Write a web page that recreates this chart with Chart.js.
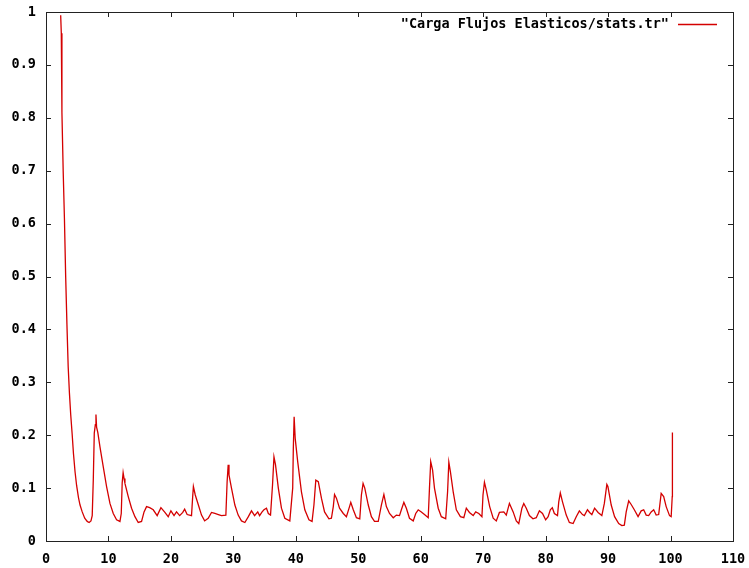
<!DOCTYPE html>
<html>
<head>
<meta charset="utf-8">
<title>Carga Flujos Elasticos</title>
<script src="https://cdn.jsdelivr.net/npm/chart.js@4/dist/chart.umd.min.js"></script>
<style>
  body { margin: 0; background: #fff; }
  canvas { display: block; }
</style>
</head>
<body>
<canvas id="statsChart" width="749" height="568"></canvas>
<script>
// stats.tr samples: time (s) and load
const seriesLabel = '"Carga Flujos Elasticos/stats.tr"';

const times = [
  2.35, 2.45, 2.55, 2.75, 2.95, 3.15, 3.35, 3.55, 3.75, 3.95, 4.2, 4.4, 4.65, 4.9, 5.2, 5.45, 5.8, 6.2, 6.6, 6.9,
  7.2, 7.4, 7.57, 7.73, 7.9, 8.0, 8.1, 8.3, 8.64, 9.17, 9.7, 10.24, 10.77, 11.3, 11.84, 12.05, 12.2, 12.35, 12.5, 12.64,
  13.17, 13.7, 14.24, 14.77, 15.3, 15.7, 16.1, 16.6, 17.17, 17.8, 18.4, 19.04, 19.57, 20.0, 20.5, 20.9, 21.4, 21.9, 22.2, 22.6,
  23.3, 23.47, 23.6, 23.9, 24.4, 24.9, 25.4, 25.97, 26.5, 27.04, 27.6, 28.1, 28.8, 29.0, 29.17, 29.3, 29.7, 30.24, 30.77, 31.3,
  31.84, 32.4, 32.9, 33.4, 33.9, 34.2, 34.6, 34.9, 35.3, 35.6, 35.95, 36.27, 36.5, 36.75, 37.2, 37.7, 38.24, 39.04, 39.5, 39.6,
  39.73, 39.9, 40.3, 40.9, 41.44, 42.1, 42.6, 42.9, 43.2, 43.6, 44.1, 44.6, 45.3, 45.7, 46.0, 46.2, 46.5, 47.0, 47.6, 48.1,
  48.6, 48.8, 49.2, 49.7, 50.24, 50.5, 50.77, 51.04, 51.6, 52.1, 52.6, 53.2, 53.7, 54.1, 54.5, 55.0, 55.6, 56.1, 56.6, 56.9,
  57.3, 57.7, 58.2, 58.8, 59.2, 59.6, 60.1, 60.6, 61.2, 61.4, 61.6, 61.9, 62.2, 62.8, 63.3, 64.0, 64.3, 64.5, 64.75, 65.2,
  65.7, 66.35, 66.9, 67.3, 67.8, 68.4, 68.8, 69.3, 69.8, 69.97, 70.2, 70.5, 71.04, 71.6, 72.1, 72.6, 73.3, 73.7, 74.2, 74.8,
  75.3, 75.7, 76.2, 76.5, 76.9, 77.4, 77.97, 78.5, 79.0, 79.5, 80.0, 80.4, 80.75, 81.07, 81.4, 81.9, 82.1, 82.35, 82.7, 83.3,
  83.8, 84.4, 84.9, 85.4, 85.9, 86.2, 86.7, 87.04, 87.4, 87.84, 88.4, 89.0, 89.4, 89.8, 89.97, 90.5, 91.04, 91.7, 92.2, 92.6,
  92.9, 93.3, 93.7, 94.2, 94.8, 95.3, 95.7, 96.1, 96.5, 96.9, 97.3, 97.7, 98.1, 98.5, 98.9, 99.3, 99.84, 100.1, 100.27, 100.3
];

const loads = [
  0.994, 0.960, 0.810, 0.700, 0.610, 0.500, 0.410, 0.330, 0.280, 0.240, 0.200, 0.165, 0.131, 0.105, 0.082, 0.068, 0.055, 0.043, 0.037, 0.035,
  0.038, 0.048, 0.115, 0.204, 0.220, 0.239, 0.215, 0.205, 0.178, 0.140, 0.103, 0.071, 0.052, 0.040, 0.037, 0.052, 0.110, 0.129, 0.118, 0.109,
  0.084, 0.062, 0.046, 0.035, 0.037, 0.055, 0.065, 0.063, 0.059, 0.048, 0.063, 0.054, 0.046, 0.057, 0.048, 0.055, 0.048, 0.054, 0.060, 0.050,
  0.048, 0.081, 0.103, 0.087, 0.068, 0.049, 0.038, 0.043, 0.054, 0.052, 0.050, 0.048, 0.049, 0.112, 0.144, 0.125, 0.100, 0.068, 0.049, 0.038,
  0.035, 0.046, 0.057, 0.048, 0.055, 0.048, 0.055, 0.059, 0.062, 0.052, 0.049, 0.106, 0.159, 0.144, 0.100, 0.062, 0.043, 0.038, 0.100, 0.175,
  0.235, 0.194, 0.150, 0.093, 0.059, 0.040, 0.037, 0.068, 0.115, 0.112, 0.081, 0.055, 0.042, 0.043, 0.065, 0.088, 0.081, 0.062, 0.052, 0.046,
  0.065, 0.073, 0.059, 0.044, 0.042, 0.087, 0.109, 0.100, 0.068, 0.046, 0.037, 0.037, 0.068, 0.088, 0.065, 0.052, 0.044, 0.049, 0.048, 0.059,
  0.073, 0.062, 0.043, 0.038, 0.052, 0.059, 0.055, 0.050, 0.044, 0.100, 0.150, 0.134, 0.100, 0.062, 0.046, 0.042, 0.093, 0.149, 0.131, 0.093,
  0.059, 0.046, 0.044, 0.062, 0.054, 0.048, 0.055, 0.052, 0.046, 0.087, 0.111, 0.096, 0.065, 0.043, 0.038, 0.054, 0.055, 0.049, 0.071, 0.055,
  0.038, 0.033, 0.062, 0.071, 0.062, 0.048, 0.042, 0.044, 0.057, 0.052, 0.040, 0.046, 0.059, 0.063, 0.052, 0.048, 0.074, 0.091, 0.074, 0.049,
  0.035, 0.033, 0.046, 0.057, 0.050, 0.048, 0.059, 0.054, 0.050, 0.062, 0.054, 0.048, 0.071, 0.107, 0.103, 0.068, 0.046, 0.033, 0.029, 0.030,
  0.055, 0.076, 0.069, 0.059, 0.046, 0.057, 0.059, 0.049, 0.048, 0.055, 0.059, 0.049, 0.050, 0.090, 0.084, 0.065, 0.048, 0.046, 0.084, 0.205
];

const xTicks = [0, 10, 20, 30, 40, 50, 60, 70, 80, 90, 100, 110];
const yTicks = [0, 0.1, 0.2, 0.3, 0.4, 0.5, 0.6, 0.7, 0.8, 0.9, 1];

const lineColor = 'rgb(212, 0, 0)';
const monoFont = { family: '"DejaVu Sans Mono", monospace', size: 13.5, weight: 'bold' };

// gnuplot-like frame: border box, inward ticks on all four sides, key at top right
const framePlugin = {
  id: 'frame',
  afterDraw(chart) {
    const { ctx, chartArea: a, scales } = chart;
    const len = 5;
    ctx.save();
    ctx.strokeStyle = '#222';
    ctx.lineWidth = 1;
    ctx.beginPath();
    xTicks.forEach(v => {
      const px = Math.round(scales.x.getPixelForValue(v)) + 0.5;
      ctx.moveTo(px, a.bottom); ctx.lineTo(px, a.bottom - len);
      ctx.moveTo(px, a.top); ctx.lineTo(px, a.top + len);
    });
    yTicks.forEach(v => {
      const py = Math.round(scales.y.getPixelForValue(v)) + 0.5;
      ctx.moveTo(a.left, py); ctx.lineTo(a.left + len, py);
      ctx.moveTo(a.right, py); ctx.lineTo(a.right - len, py);
    });
    ctx.stroke();
    ctx.strokeRect(Math.round(a.left) + 0.5, Math.round(a.top) + 0.5,
      Math.round(a.right - a.left), Math.round(a.bottom - a.top));

    // key
    ctx.font = `bold ${monoFont.size}px ${monoFont.family}`;
    ctx.fillStyle = '#000';
    ctx.textAlign = 'right';
    ctx.textBaseline = 'middle';
    ctx.fillText(seriesLabel, 669, 24);
    ctx.strokeStyle = lineColor;
    ctx.lineWidth = 1.3;
    ctx.beginPath();
    ctx.moveTo(678, 24.5);
    ctx.lineTo(717, 24.5);
    ctx.stroke();
    ctx.restore();
  }
};

const ctx = document.getElementById('statsChart').getContext('2d');
const chart = new Chart(ctx, {
  type: 'line',
  data: {
    datasets: [{
      label: seriesLabel,
      data: times.map((t, i) => ({ x: t, y: loads[i] })),
      borderColor: lineColor,
      borderWidth: 1.3,
      pointRadius: 0,
      tension: 0,
      fill: false
    }]
  },
  options: {
    responsive: false,
    animation: false,
    layout: { padding: { top: 12, right: 16, left: 0, bottom: 0 } },
    plugins: {
      legend: { display: false },
      tooltip: { enabled: false }
    },
    scales: {
      x: {
        type: 'linear',
        min: 0,
        max: 110,
        afterFit: s => { s.height = 27; s.paddingLeft = 0; s.paddingRight = 0; },
        afterBuildTicks: s => { s.ticks = xTicks.map(v => ({ value: v })); },
        grid: { display: false, drawTicks: false },
        border: { display: false },
        ticks: { color: '#000', font: monoFont, padding: 10, maxRotation: 0, autoSkip: false }
      },
      y: {
        min: 0,
        max: 1,
        afterFit: s => { s.width = 46; s.paddingTop = 0; s.paddingBottom = 0; },
        afterBuildTicks: s => { s.ticks = yTicks.map(v => ({ value: v })); },
        grid: { display: false, drawTicks: false },
        border: { display: false },
        ticks: {
          color: '#000', font: monoFont, padding: 10, autoSkip: false,
          callback: v => String(+v.toFixed(1))
        }
      }
    }
  },
  plugins: [framePlugin]
});
</script>
</body>
</html>
